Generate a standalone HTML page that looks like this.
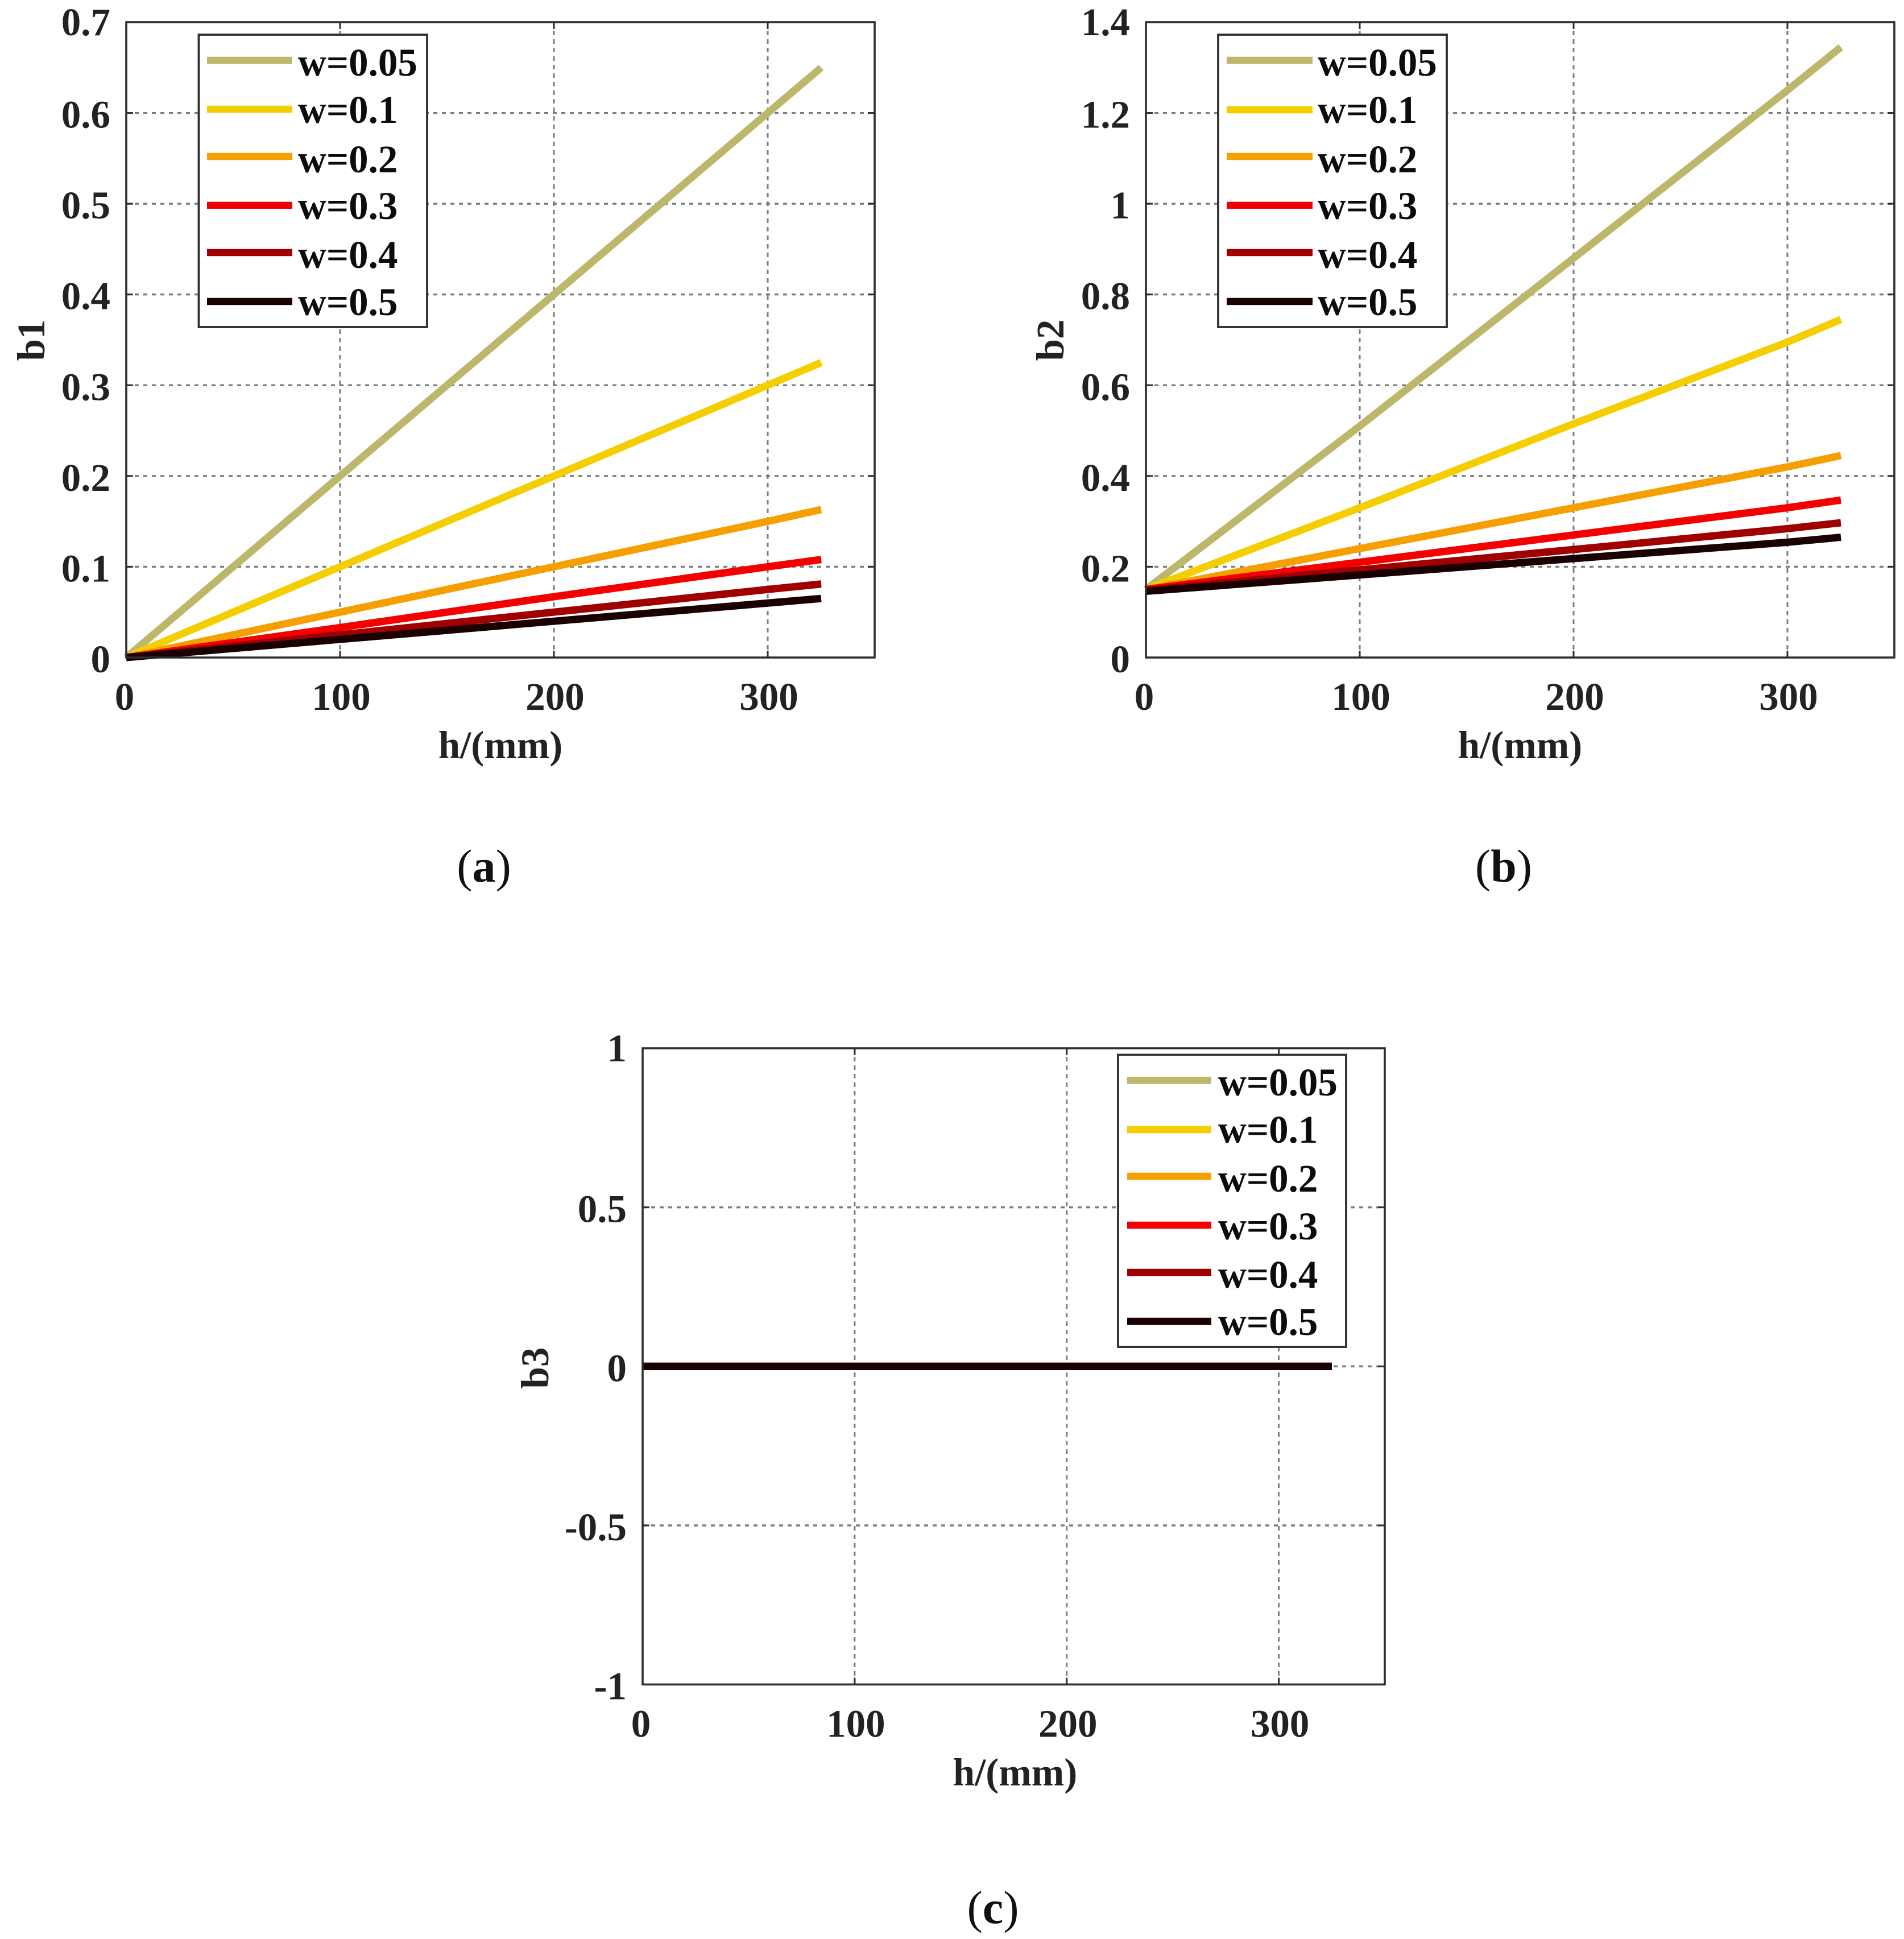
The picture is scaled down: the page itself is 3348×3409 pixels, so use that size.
<!DOCTYPE html>
<html lang="en">
<head>
<meta charset="utf-8">
<title>b1, b2, b3 versus h for several w values</title>
<style>
  html, body { margin: 0; padding: 0; background: #fff; }
  svg { display: block; }
  text { font-family: "Liberation Serif", serif; }
  .tick { font-size: 69px; font-weight: 700; fill: #222; }
  .axis-title { font-size: 69px; font-weight: 700; fill: #222; }
  .legend-text { font-size: 69px; font-weight: 700; fill: #0c0c0c; }
  .caption { font-size: 82px; fill: #111; }
  .caption tspan { font-weight: 700; }
</style>
</head>
<body>
<svg id="figure" xmlns="http://www.w3.org/2000/svg" width="3348" height="3409" viewBox="0 0 3348 3409">
  <rect x="0" y="0" width="3348" height="3409" fill="#fff"/>

  <g id="panel-a"></g>
  <g id="panel-b"></g>
  <g id="panel-c"></g>

  <text class="axis-title" x="880" y="1333" text-anchor="middle">h/(mm)</text>
  <text class="axis-title" transform="translate(78 598) rotate(-90)" text-anchor="middle">b1</text>
  <text class="caption" x="851" y="1550" text-anchor="middle">(<tspan>a</tspan>)</text>

  <text class="axis-title" x="2673" y="1333" text-anchor="middle">h/(mm)</text>
  <text class="axis-title" transform="translate(1870 598) rotate(-90)" text-anchor="middle">b2</text>
  <text class="caption" x="2644" y="1550" text-anchor="middle">(<tspan>b</tspan>)</text>

  <text class="axis-title" x="1785" y="3139" text-anchor="middle">h/(mm)</text>
  <text class="axis-title" transform="translate(964 2405) rotate(-90)" text-anchor="middle">b3</text>
  <text class="caption" x="1746" y="3381" text-anchor="middle">(<tspan>c</tspan>)</text>
</svg>

<script>
// ---- chart data ----
const hValues = [0, 100, 200, 300, 325];
const seriesLabels = ['w=0.05', 'w=0.1', 'w=0.2', 'w=0.3', 'w=0.4', 'w=0.5'];
const xTickValues = [0, 100, 200, 300];

const b1W005 = [0, 0.2, 0.4, 0.6, 0.65];
const b1W01 = [0, 0.1, 0.2, 0.3, 0.325];
const b1W02 = [0, 0.05, 0.1, 0.15, 0.163];
const b1W03 = [0, 0.033, 0.067, 0.1, 0.108];
const b1W04 = [0, 0.025, 0.05, 0.075, 0.081];
const b1W05 = [0, 0.02, 0.04, 0.06, 0.065];
const b1Ticks = [0, 0.1, 0.2, 0.3, 0.4, 0.5, 0.6, 0.7];

const b2W005 = [0.15, 0.51, 0.88, 1.25, 1.345];
const b2W01 = [0.15, 0.33, 0.515, 0.695, 0.745];
const b2W02 = [0.15, 0.24, 0.33, 0.42, 0.445];
const b2W03 = [0.15, 0.21, 0.27, 0.33, 0.347];
const b2W04 = [0.148, 0.193, 0.238, 0.284, 0.297];
const b2W05 = [0.146, 0.182, 0.218, 0.254, 0.265];
const b2Ticks = [0, 0.2, 0.4, 0.6, 0.8, 1, 1.2, 1.4];

const b3W005 = [0, 0, 0, 0, 0];
const b3W01 = [0, 0, 0, 0, 0];
const b3W02 = [0, 0, 0, 0, 0];
const b3W03 = [0, 0, 0, 0, 0];
const b3W04 = [0, 0, 0, 0, 0];
const b3W05 = [0, 0, 0, 0, 0];
const b3Ticks = [-1, -0.5, 0, 0.5, 1];

const seriesColors = ['#bdb76b', '#f5ce00', '#f5a000', '#f50000', '#a00000', '#1a0000'];

// ---- drawing ----
const SVG_NS = 'http://www.w3.org/2000/svg';
const GRID_COLOR = '#7c7c7c';
const FRAME_COLOR = '#2e2e2e';

function make(parent, tag, attrs) {
  const el = document.createElementNS(SVG_NS, tag);
  for (const key in attrs) el.setAttribute(key, attrs[key]);
  parent.appendChild(el);
  return el;
}

function drawPanel(cfg) {
  const root = document.getElementById(cfg.id);
  const xAt = function (v) { return cfg.left + (v - 0) / 350 * (cfg.right - cfg.left); };
  const yAt = function (v) { return cfg.bottom - (v - cfg.yMin) / (cfg.yMax - cfg.yMin) * (cfg.bottom - cfg.top); };

  // vertical grid, tick marks and x labels
  xTickValues.forEach(function (v) {
    if (v !== 0) {
      const grid = make(root, 'line', { x1: xAt(v), x2: xAt(v), y1: cfg.top, y2: cfg.bottom, stroke: GRID_COLOR, 'stroke-width': 3, 'stroke-dasharray': '8 7' });
      
      
      const t1 = make(root, 'line', { x1: xAt(v), x2: xAt(v), y1: cfg.bottom, y2: cfg.bottom - 12, stroke: FRAME_COLOR, 'stroke-width': 3 });
      
      
      const t2 = make(root, 'line', { x1: xAt(v), x2: xAt(v), y1: cfg.top, y2: cfg.top + 12, stroke: FRAME_COLOR, 'stroke-width': 3 });
      
      
    }
    const label = make(root, 'text', { x: xAt(v) + (v === 0 ? -3 : 2), y: cfg.bottom + 92, 'text-anchor': 'middle', class: 'tick' });
    
    
    label.textContent = String(v);
  });

  // horizontal grid, tick marks and y labels
  cfg.yTicks.forEach(function (v) {
    const atEdge = v === cfg.yMin || v === cfg.yMax;
    if (!atEdge) {
      const grid = make(root, 'line', { x1: cfg.left, x2: cfg.right, y1: yAt(v), y2: yAt(v), stroke: GRID_COLOR, 'stroke-width': 3.4, 'stroke-dasharray': '7 8' });
      
      
      const t1 = make(root, 'line', { x1: cfg.left, x2: cfg.left + 12, y1: yAt(v), y2: yAt(v), stroke: FRAME_COLOR, 'stroke-width': 3 });
      
      
      const t2 = make(root, 'line', { x1: cfg.right, x2: cfg.right - 12, y1: yAt(v), y2: yAt(v), stroke: FRAME_COLOR, 'stroke-width': 3 });
      
      
    }
    const labelOffset = v === cfg.yMax ? 23 : 26;
    const label = make(root, 'text', { x: cfg.left - 28, y: yAt(v) + labelOffset, 'text-anchor': 'end', class: 'tick' });
    
    
    label.textContent = String(v);
  });

  // series lines
  cfg.series.forEach(function (values, i) {
    const pts = values.map(function (v, k) { return xAt(hValues[k]) + ',' + yAt(v); }).join(' ');
    const line = make(root, 'polyline', { points: pts, fill: 'none', stroke: seriesColors[i], 'stroke-width': 13, 'stroke-linejoin': 'round' });
    
    
  });

  // axes frame
  const frame = make(root, 'rect', { x: cfg.left, y: cfg.top, width: cfg.right - cfg.left, height: cfg.bottom - cfg.top, fill: 'none', stroke: FRAME_COLOR, 'stroke-width': 3.6 });
  
  

  // legend
  const lg = cfg.legend;
  const legendGroup = make(root, 'g', {});
  
  
  const box = make(legendGroup, 'rect', { x: lg.x, y: lg.y, width: lg.w, height: lg.h, fill: '#fff', stroke: FRAME_COLOR, 'stroke-width': 3.8 });
  
  
  seriesLabels.forEach(function (name, i) {
    const swatch = make(legendGroup, 'line', { x1: lg.lineX1, x2: lg.lineX2, y1: lg.lineY[i], y2: lg.lineY[i], stroke: seriesColors[i], 'stroke-width': 12.5 });
    
    
    const text = make(legendGroup, 'text', { x: lg.textX, y: lg.textY[i], class: 'legend-text' });
    
    
    text.textContent = name;
  });
}

drawPanel({
  id: 'panel-a', left: 222, right: 1538, top: 39, bottom: 1156, yMin: 0, yMax: 0.7, yTicks: b1Ticks,
  series: [b1W005, b1W01, b1W02, b1W03, b1W04, b1W05],
  legend: { x: 349.5, y: 61, w: 401.5, h: 514, lineX1: 364, lineX2: 514, textX: 524,
            lineY: [106, 192, 275, 361, 444, 530], textY: [133, 216, 303, 385, 471, 554] }
});
drawPanel({
  id: 'panel-b', left: 2015, right: 3331, top: 39, bottom: 1156, yMin: 0, yMax: 1.4, yTicks: b2Ticks,
  series: [b2W005, b2W01, b2W02, b2W03, b2W04, b2W05],
  legend: { x: 2142, y: 61, w: 402, h: 514, lineX1: 2157, lineX2: 2308, textX: 2317,
            lineY: [106, 193, 275, 361, 444, 530], textY: [133, 216, 303, 385, 471, 554] }
});
drawPanel({
  id: 'panel-c', left: 1130, right: 2435, top: 1843, bottom: 2961.5, yMin: -1, yMax: 1, yTicks: b3Ticks,
  series: [b3W005, b3W01, b3W02, b3W03, b3W04, b3W05],
  legend: { x: 1966, y: 1854.5, w: 401, h: 513.5, lineX1: 1982, lineX2: 2130, textX: 2142,
            lineY: [1899.5, 1986, 2068, 2154, 2237, 2323], textY: [1926, 2009, 2095, 2179, 2264, 2347] }
});
</script>
</body>
</html>
